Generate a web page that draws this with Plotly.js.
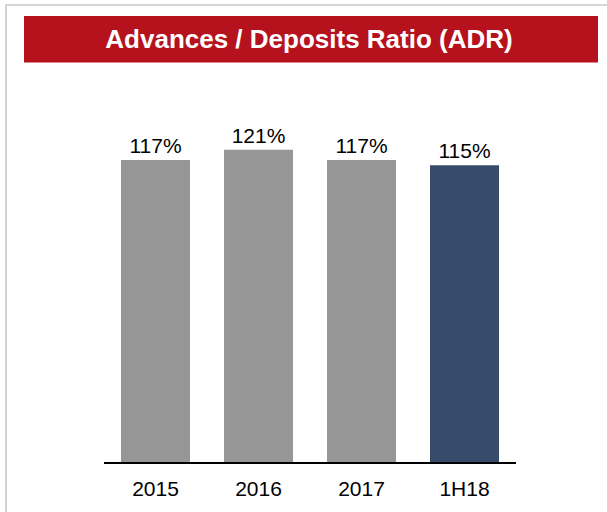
<!DOCTYPE html>
<html>
<head>
<meta charset="utf-8">
<script src="https://cdn.plot.ly/plotly-3.0.1.min.js"></script>
<style>
  html, body { margin: 0; padding: 0; background: #ffffff; }
  #chart { width: 607px; height: 512px; }
</style>
</head>
<body>
<div id="chart"></div>
<script>
const categories = ['2015', '2016', '2017', '1H18'];
const adrValues = [117, 121, 117, 115];
const barColors = ['#969696', '#969696', '#969696', '#374c6b'];
const labels = adrValues.map(v => v + '%');
const chartTitle = 'Advances / Deposits Ratio (ADR)';

const font = 'Arial, "Liberation Sans", sans-serif';

const trace = {
  type: 'bar',
  x: categories,
  y: adrValues,
  marker: { color: barColors, line: { width: 0 } },
  text: labels,
  textposition: 'outside',
  textfont: { family: font, size: 21, color: '#000000' },
  cliponaxis: false,
  hoverinfo: 'none'
};

const layout = {
  width: 607,
  height: 512,
  margin: { l: 104, r: 91, t: 100, b: 50, pad: 0 },
  paper_bgcolor: '#ffffff',
  plot_bgcolor: 'rgba(0,0,0,0)',
  showlegend: false,
  bargap: 0.33,
  title: {
    text: chartTitle,
    font: { family: font, size: 26, color: '#ffffff', weight: 'bold' },
    xref: 'container', yref: 'container',
    x: 309 / 607, xanchor: 'center',
    y: 1 - 39 / 512, yanchor: 'middle',
    pad: { t: 0, b: 0, l: 0, r: 0 }
  },
  xaxis: {
    type: 'category',
    showline: true,
    linecolor: '#000000',
    linewidth: 2,
    showgrid: false,
    zeroline: false,
    ticks: '',
    ticklabelstandoff: 7,
    tickfont: { family: font, size: 21, color: '#000000' },
    fixedrange: true
  },
  yaxis: {
    visible: false,
    range: [0, 140.3],
    showgrid: false,
    zeroline: false,
    fixedrange: true
  },
  shapes: [
    {
      type: 'rect', xref: 'paper', yref: 'paper', layer: 'below',
      x0: (6 - 104) / 412, x1: 1.4, y0: -0.4, y1: (462 - 5) / 362,
      line: { color: '#d4d4d4', width: 2 },
      fillcolor: 'rgba(0,0,0,0)'
    },
    {
      type: 'rect', xref: 'paper', yref: 'paper', layer: 'above',
      x0: (24 - 104) / 412, x1: (598 - 104) / 412,
      y0: (462 - 62.5) / 362, y1: (462 - 16) / 362,
      line: { width: 0 },
      fillcolor: '#b5121e'
    }
  ]
};

Plotly.newPlot('chart', [trace], layout, { displayModeBar: false, staticPlot: true });
</script>
</body>
</html>
